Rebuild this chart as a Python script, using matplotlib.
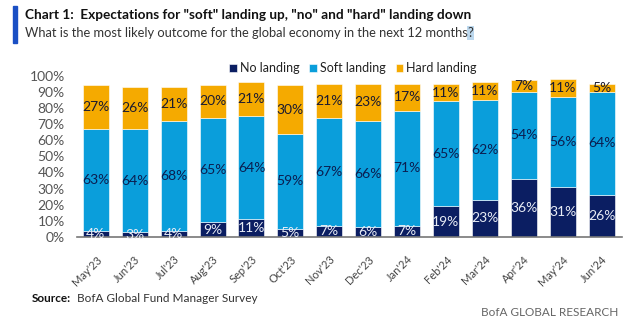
import matplotlib.pyplot as plt
import numpy as np
from matplotlib.patches import Rectangle

plt.rcParams['font.family'] = ['Lato', 'DejaVu Sans']

months = ["May'23", "Jun'23", "Jul'23", "Aug'23", "Sep'23", "Oct'23", "Nov'23",
          "Dec'23", "Jan'24", "Feb'24", "Mar'24", "Apr'24", "May'24", "Jun'24"]
no_landing = [4, 3, 4, 9, 11, 5, 7, 6, 7, 19, 23, 36, 31, 26]
soft_landing = [63, 64, 68, 65, 64, 59, 67, 66, 71, 65, 62, 54, 56, 64]
hard_landing = [27, 26, 21, 20, 21, 30, 21, 23, 17, 11, 11, 7, 11, 5]

navy = '#0b1e62'
blue = '#0a9edb'
orange = '#f5aa00'

fig = plt.figure(figsize=(6.43, 3.26), dpi=100)
ax = fig.add_axes([0.120, 0.273, 0.847, 0.495])

x = np.arange(len(months))
w = 0.67
no = np.array(no_landing)
soft = np.array(soft_landing)
hard = np.array(hard_landing)

ax.bar(x, no, w, color=navy, edgecolor='white', linewidth=0.4, label='No landing')
ax.bar(x, soft, w, bottom=no, color=blue, edgecolor='white', linewidth=0.4, label='Soft landing')
ax.bar(x, hard, w, bottom=no + soft, color=orange, edgecolor='white', linewidth=0.4, label='Hard landing')

for i in range(len(months)):
    ax.text(x[i], no[i] / 2, f'{no[i]}%', ha='center', va='center', fontsize=10, color='#e8ecf5')
    ax.text(x[i], no[i] + soft[i] / 2, f'{soft[i]}%', ha='center', va='center', fontsize=10, color='#0b1e50')
    ax.text(x[i], no[i] + soft[i] + hard[i] / 2, f'{hard[i]}%', ha='center', va='center', fontsize=10, color='#1b1b30')

ax.set_xlim(-0.48, 13.52)
ax.set_ylim(0, 100)
ax.set_yticks(np.arange(0, 101, 10))
ax.set_yticklabels([f'{v}%' for v in range(0, 101, 10)], fontsize=10, color='#555555')
ax.set_xticks(x)
ax.set_xticklabels(months, rotation=45, ha='right', rotation_mode='anchor', fontsize=8, color='#444444')
ax.tick_params(axis='both', length=0)
ax.tick_params(axis='y', pad=9)
ax.tick_params(axis='x', pad=12)
for s in ['top', 'right', 'left']:
    ax.spines[s].set_visible(False)
ax.spines['bottom'].set_color('#777777')
ax.spines['bottom'].set_linewidth(1.2)

leg = ax.legend(loc='lower left', bbox_to_anchor=(0.279, 1.008), ncol=3, frameon=False,
                fontsize=9, handlelength=0.6, handleheight=0.6, handletextpad=0.25,
                columnspacing=0.8, borderaxespad=0, borderpad=0)
for t in leg.get_texts():
    t.set_color('#222222')

# title block
fig.patches.append(Rectangle((13 / 643, 1 - 43 / 326), 4 / 643, 37 / 326,
                             transform=fig.transFigure, color='#1a4fc4'))
fig.text(25 / 643, 1 - 15 / 326, 'Chart 1:  Expectations for "soft" landing up, "no" and "hard" landing down',
         fontsize=9.8, fontweight='bold', color='#111111', va='center')
sub = fig.text(25 / 643, 1 - 33 / 326, 'What is the most likely outcome for the global economy in the next 12 months',
               fontsize=9.3, color='#333333', va='center')
plt.annotate('?', xy=(1, 0.5), xycoords=sub, va='center', ha='left', fontsize=9.3, color='#333333',
             bbox=dict(boxstyle='square,pad=0.05', facecolor='#bcd8ee', edgecolor='none'))

src = fig.text(32 / 643, 1 - 299 / 326, 'Source:', fontsize=8.5, fontweight='bold', color='#111111', va='center')
plt.annotate('  BofA Global Fund Manager Survey', xy=(1, 0.5), xycoords=src, va='center', ha='left',
             fontsize=8.5, color='#333333')
fig.text(618 / 643, 1 - 312 / 326, 'BofA GLOBAL RESEARCH', fontsize=8.5, color='#666666', va='center', ha='right')

fig.savefig('out.png', dpi=100)
